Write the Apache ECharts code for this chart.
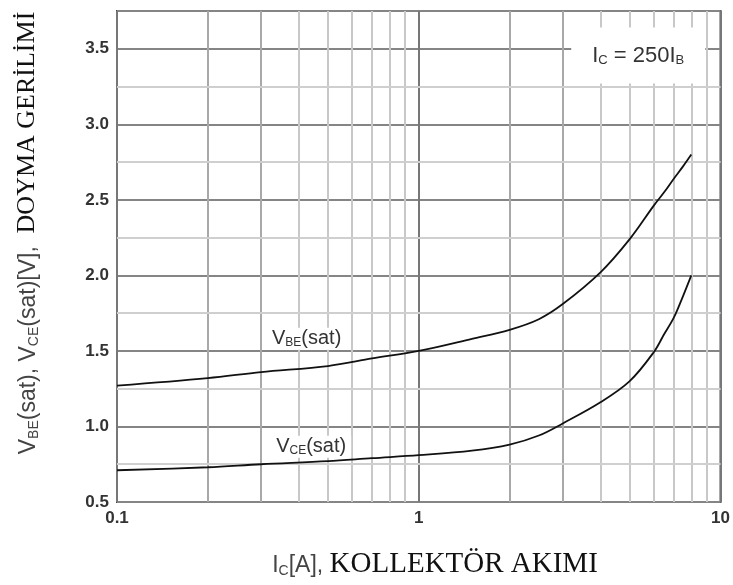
<!DOCTYPE html>
<html>
<head>
<meta charset="utf-8">
<script src="https://cdn.jsdelivr.net/npm/echarts@6/dist/echarts.min.js"></script>
<style>html,body{margin:0;padding:0;background:#fff;}#c{width:733px;height:585px;}</style>
</head>
<body>
<div id="c"></div>
<script>
var ic = [0.1, 0.2, 0.3, 0.5, 0.7, 1, 1.5, 2, 2.5, 3, 4, 5, 6, 6.5, 7, 7.5, 8];
var vbeSat = [1.27, 1.32, 1.36, 1.40, 1.45, 1.50, 1.58, 1.64, 1.71, 1.81, 2.02, 2.24, 2.46, 2.55, 2.64, 2.72, 2.80];
var vceSat = [0.71, 0.73, 0.75, 0.77, 0.79, 0.81, 0.84, 0.88, 0.94, 1.02, 1.16, 1.30, 1.49, 1.61, 1.72, 1.86, 2.00];
var xMinorGrid = [0.2, 0.3, 0.4, 0.5, 0.6, 0.7, 0.8, 0.9, 2, 3, 4, 5, 6, 7, 8, 9];
var yMinorGrid = [0.75, 1.25, 1.75, 2.25, 2.75, 3.25];
var xTickLabels = [0.1, 1, 10];
var vbeLabelPos = [0.425, 1.58];
var vceLabelPos = [0.44, 0.865];
var noteBox = [[3.2, 3.27], [8.9, 3.64]];

function pair(xs, ys) { return xs.map(function (x, i) { return [x, ys[i]]; }); }

var sansRich = {
  v: { fontFamily: 'Liberation Sans, Arial', fontSize: 20, color: '#333' },
  s: { fontFamily: 'Liberation Sans, Arial', fontSize: 12, color: '#333', padding: [8, 0, 0, 0] }
};

var chart = echarts.init(document.getElementById('c'), null, { renderer: 'canvas' });
chart.setOption({
  backgroundColor: '#fff',
  animation: false,
  grid: { left: 117, right: 10, top: 11, bottom: 83, show: true, borderColor: '#444', borderWidth: 2, backgroundColor: 'transparent' },
  xAxis: {
    type: 'log', logBase: 10, min: 0.1, max: 10,
    axisLine: { show: false },
    axisTick: { show: false },
    splitLine: { show: true, lineStyle: { color: '#777', width: 2 } },
    minorTick: { show: false },
    minorSplitLine: { show: false },
    axisLabel: {
      margin: 8, fontFamily: 'Liberation Sans, Arial', fontWeight: 'bold', fontSize: 17, color: '#333',
      formatter: function (v) { return xTickLabels.indexOf(+v) >= 0 ? String(+v) : ''; }
    }
  },
  yAxis: {
    type: 'value', min: 0.5, max: 3.75, interval: 0.5,
    axisLine: { show: false },
    axisTick: { show: false },
    splitLine: { show: true, lineStyle: { color: '#858585', width: 1.8 } },
    axisLabel: {
      margin: 8, fontFamily: 'Liberation Sans, Arial', fontWeight: 'bold', fontSize: 17, color: '#333',
      showMaxLabel: false,
      formatter: function (v) { return (Math.abs(v * 2 - Math.round(v * 2)) < 1e-6) ? v.toFixed(1) : ''; }
    }
  },
  graphic: [
    {
      type: 'text', x: 27, y: 233, rotation: Math.PI / 2,
      style: {
        text: '{v|V}{s|BE}{v|(sat), V}{s|CE}{v|(sat)[V],  }{t|DOYMA GERİLİMİ}',
        align: 'center', verticalAlign: 'middle',
        rich: {
          v: { fontFamily: 'Liberation Sans, Arial', fontSize: 23, fill: '#444', padding: [4, 0, 0, 0] },
          s: { fontFamily: 'Liberation Sans, Arial', fontSize: 14, fill: '#444', padding: [14, 0, 0, 0] },
          t: { fontFamily: 'Liberation Serif, Times New Roman', fontSize: 26, fill: '#111' }
        }
      }
    },
    {
      type: 'text', x: 435, y: 564,
      style: {
        text: '{v|I}{s|C}{v|[A], }{t|KOLLEKTÖR AKIMI}',
        align: 'center', verticalAlign: 'middle',
        rich: {
          v: { fontFamily: 'Liberation Sans, Arial', fontSize: 23, fill: '#444', padding: [4, 0, 0, 0] },
          s: { fontFamily: 'Liberation Sans, Arial', fontSize: 14, fill: '#444', padding: [14, 0, 0, 0] },
          t: { fontFamily: 'Liberation Serif, Times New Roman', fontSize: 29, fill: '#111' }
        }
      }
    }
  ],
  series: [
    {
      type: 'line', name: 'grid', data: [], silent: true, z: 1,
      markLine: {
        silent: true, symbol: 'none', label: { show: false }, z: 1,
        animation: false,
        data: xMinorGrid.map(function (x) { return { xAxis: x, lineStyle: { color: x < 0.4 || (x >= 2 && x < 4) ? '#a8a8a8' : '#c8c8c8', width: 2, type: 'solid' } }; })
          .concat(yMinorGrid.map(function (y) { return { yAxis: y, lineStyle: { color: '#cfcfcf', width: 2, type: 'solid' } }; }))
      }
    },
    {
      type: 'line', name: 'note', data: [], silent: true, z: 3,
      markArea: {
        silent: true, z: 4,
        itemStyle: { color: '#fff' },
        label: {
          show: true, position: 'inside',
          formatter: '{v|I}{s|C}{v| = 250I}{s|B}',
          rich: {
            v: { fontFamily: 'Liberation Sans, Arial', fontSize: 22, color: '#333' },
            s: { fontFamily: 'Liberation Sans, Arial', fontSize: 13, color: '#333', padding: [9, 0, 0, 0] }
          }
        },
        data: [[{ coord: noteBox[0] }, { coord: noteBox[1] }]]
      }
    },
    {
      type: 'line', name: 'VBE(sat)', data: pair(ic, vbeSat), smooth: 0.35,
      showSymbol: false, lineStyle: { color: '#111', width: 1.8 }, z: 5,
      markPoint: {
        silent: true, symbol: 'rect', symbolSize: 0, z: 6,
        label: {
          show: true, position: 'inside', backgroundColor: '#fff', padding: [1, 5, 1, 5],
          formatter: '{v|V}{s|BE}{v|(sat)}', rich: sansRich
        },
        data: [{ coord: vbeLabelPos }]
      }
    },
    {
      type: 'line', name: 'VCE(sat)', data: pair(ic, vceSat), smooth: 0.35,
      showSymbol: false, lineStyle: { color: '#111', width: 1.8 }, z: 5,
      markPoint: {
        silent: true, symbol: 'rect', symbolSize: 0, z: 6,
        label: {
          show: true, position: 'inside', backgroundColor: '#fff', padding: [1, 5, 1, 5],
          formatter: '{v|V}{s|CE}{v|(sat)}', rich: sansRich
        },
        data: [{ coord: vceLabelPos }]
      }
    }
  ]
});
</script>
</body>
</html>
